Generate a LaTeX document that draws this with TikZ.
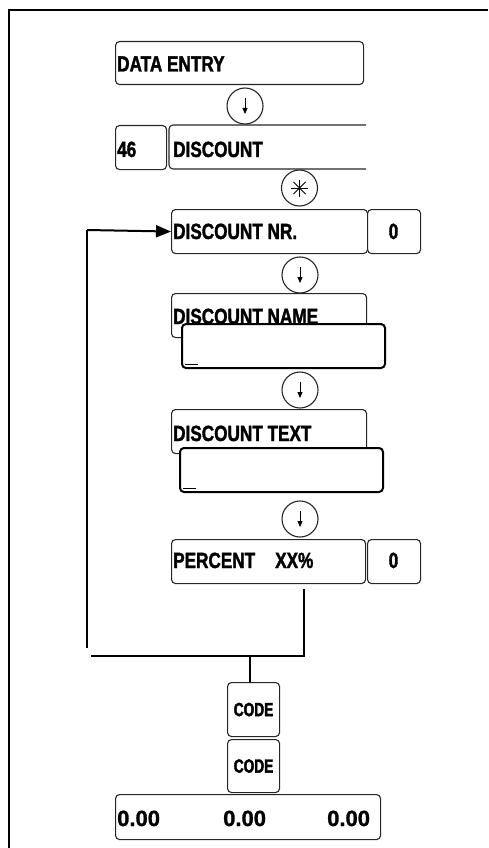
\documentclass[tikz,border=0pt]{standalone}
\usepackage{fontspec}
\usetikzlibrary{arrows.meta}
\newfontfamily\labfont[FakeStretch=0.78,FakeBold=1.6]{Liberation Sans Bold}
\newfontfamily\numfont[FakeBold=1.2]{Liberation Sans Bold}
\newfontfamily\codefont[FakeStretch=0.72,FakeBold=2.2]{Liberation Sans Bold}
\tikzset{
  x=1pt, y=-1pt,
  box/.style={draw=black!85, line width=1.1pt, rounded corners=4pt, anchor=north west, inner sep=0pt, fill=white},
  inbox/.style={draw=black, line width=2pt, rounded corners=4pt, anchor=north west, inner sep=0pt, fill=white},
  lab/.style={anchor=base west, inner sep=0pt, font=\labfont\fontsize{22}{22}\selectfont},
  labc/.style={anchor=base, inner sep=0pt, font=\labfont\fontsize{22}{22}\selectfont},
  numlab/.style={anchor=base west, inner sep=0pt, font=\numfont\fontsize{22}{22}\selectfont},
  codelab/.style={inner sep=0pt, font=\codefont\fontsize{19}{19}\selectfont},
  circ/.style={draw=black!85, line width=1.1pt, circle, minimum size=36pt, inner sep=0pt},
  conn/.style={draw=black, line width=2pt},
  downarr/.style={draw=black, line width=0.9pt, -{Triangle[length=6pt,width=5pt]}},
}
\begin{document}
\begin{tikzpicture}
\useasboundingbox (0,0) rectangle (488,848);
% frame
\draw[line width=2.4pt] (9,848) -- (9,10) -- (488,10);

% DATA ENTRY
\node[box, minimum width=248pt, minimum height=43pt] (dataentry) at (115,41) {};
\node[lab] (dataentrytxt) at (117,71.5) {DATA ENTRY};

% circle 1
\node[circ] (c1) at (245,106) {};
\draw[downarr] ([yshift=8pt]c1.center) -- ([yshift=-8pt]c1.center);

% 46 DISCOUNT
\node[box, minimum width=51pt, minimum height=44pt] (n46) at (115,125) {};
\node[lab] (n46txt) at (117,157) {46};
\draw[draw=black!85, line width=1.1pt, rounded corners=4pt] (366,125) -- (169,125) -- (169,169) -- (366,169);
\coordinate (discount) at (169,147);
\node[lab] (discounttxt) at (173,157) {DISCOUNT};

% asterisk circle
\node[circ] (cstar) at (299.5,188) {};
\foreach \a in {0,45,90,135}
  \draw[line width=0.9pt] (cstar.center) ++(\a:8.5) -- ++(\a+180:17);

% DISCOUNT NR.
\node[box, minimum width=196pt, minimum height=44pt] (discnr) at (171,209) {};
\node[lab] (discnrtxt) at (173,239) {DISCOUNT NR.};
\node[box, minimum width=53pt, minimum height=44pt] (nrval) at (367,209) {};
\node[labc] (nrvaltxt) at (393.5,239) {0};

% circle 2
\node[circ] (c2) at (300,275) {};
\draw[downarr] ([yshift=8pt]c2.center) -- ([yshift=-8pt]c2.center);

% DISCOUNT NAME
\node[box, minimum width=195pt, minimum height=44pt] (discname) at (171,293) {};
\node[lab] (discnametxt) at (173,324) {DISCOUNT NAME};
\node[inbox, minimum width=203pt, minimum height=44pt] (nameinput) at (181,323) {};
\draw[line width=1pt] ([xshift=4pt,yshift=5pt]nameinput.south west) -- ++(13,0);

% circle 3
\node[circ] (c3) at (300,390) {};
\draw[downarr] ([yshift=8pt]c3.center) -- ([yshift=-8pt]c3.center);

% DISCOUNT TEXT
\node[box, minimum width=195pt, minimum height=44pt] (disctext) at (171,409) {};
\node[lab] (disctexttxt) at (173,441) {DISCOUNT TEXT};
\node[inbox, minimum width=203pt, minimum height=44pt] (textinput) at (179,447) {};
\draw[line width=1pt] ([xshift=4pt,yshift=5pt]textinput.south west) -- ++(13,0);

% circle 4
\node[circ] (c4) at (300,519) {};
\draw[downarr] ([yshift=8pt]c4.center) -- ([yshift=-8pt]c4.center);

% PERCENT
\node[box, minimum width=194pt, minimum height=44pt] (percent) at (171,539) {};
\node[lab] (percenttxt) at (173,568) {PERCENT};
\node[lab] (xxtxt) at (275,568) {XX\%};
\node[box, minimum width=53pt, minimum height=44pt] (pval) at (367,539) {};
\node[labc] (pvaltxt) at (393.5,568) {0};

% connectors
\coordinate (pdown) at (304,589);
\coordinate (pbot) at (304,657);
\coordinate (hleft) at (91,656);
\coordinate (lbot) at (87,648);
\coordinate (ltop) at (87,230);
\coordinate (junc) at (250,656);
\draw[conn] (pdown) -- (pbot);
\draw[conn] (304,656) -- (hleft);
\draw[conn] (lbot) -- (ltop);
\draw[line width=2pt, -{Triangle[length=15pt,width=12pt]}] (ltop) -- (discnr.west);

% CODE boxes
\node[box, minimum width=52pt, minimum height=54pt] (code1) at (227,682) {};
\node[codelab] (code1txt) at (code1.center) {CODE};
\draw[conn] (junc) -- (code1.north -| junc);
\node[box, minimum width=52pt, minimum height=53pt] (code2) at (227,739) {};
\node[codelab] (code2txt) at (code2.center) {CODE};

% bottom display
\node[box, minimum width=265pt, minimum height=45pt] (display) at (115,794) {};
\node[numlab] (d1) at (117,826) {0.00};
\node[numlab] (d2) at (223,826) {0.00};
\node[numlab] (d3) at (327,826) {0.00};
\end{tikzpicture}
\end{document}
